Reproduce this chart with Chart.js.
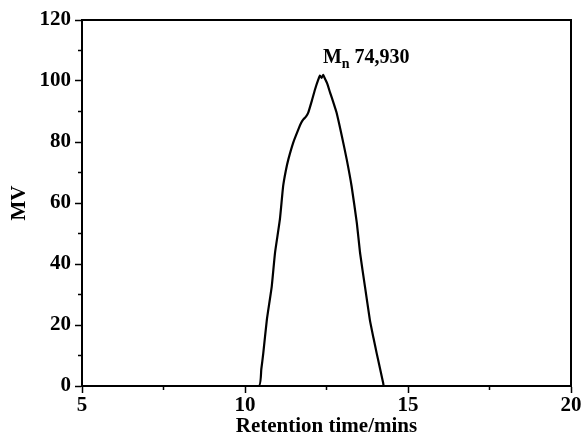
<!DOCTYPE html>
<html lang="en">
<head>
  <meta charset="UTF-8" />
  <title>GPC trace</title>
  <script src="https://cdn.jsdelivr.net/npm/chart.js"></script>
  <style>
    body {
      margin: 0;
      background: #ffffff;
    }
    #wrap {
      width: 584px;
      height: 443px;
    }
  </style>
</head>
<body>
  <div id="wrap">
    <canvas id="gpcChart" width="584" height="443"></canvas>
  </div>

  <script>
    // retention time (min) and detector response (mV)
    const retentionTime = [5, 10.42, 10.5, 10.56, 10.67, 10.82, 10.92, 11.07, 11.17, 11.25, 11.33, 11.48, 11.64, 11.72, 11.79, 11.87, 11.94, 12.05, 12.15, 12.25, 12.3, 12.35, 12.4, 12.45, 12.52, 12.61, 12.71, 12.81, 12.97, 13.12, 13.27, 13.43, 13.53, 13.68, 13.83, 13.94, 14.04, 14.14, 14.24, 14.26, 20];
    const signalMV = [0, 0, 5.5, 10.7, 21.7, 32.6, 43.6, 54.6, 65.5, 70.5, 74.3, 79.8, 84.2, 86.2, 87.4, 88.3, 89.6, 93.5, 97.3, 100.5, 101.8, 101.0, 102.0, 100.8, 99.2, 96.2, 93.0, 89.6, 82.0, 74.3, 65.5, 53.5, 43.6, 32.6, 21.7, 15.8, 10.7, 5.8, 0.9, 0, 0];

    const xTicks = [5, 10, 15, 20];
    const yTicks = [0, 20, 40, 60, 80, 100, 120];
    const xMinor = [7.5, 12.5, 17.5];
    const yMinor = [10, 30, 50, 70, 90, 110];

    const peakLabel = { x: 12.39, y: 106, main: 'M', sub: 'n', text: ' 74,930' };

    const fontFamily = "'Liberation Serif', 'DejaVu Serif', serif";

    const points = retentionTime.map((t, i) => ({ x: t, y: signalMV[i] }));

    // frame box, minor ticks and the Mn annotation
    const extras = {
      id: 'extras',
      afterDraw(chart) {
        const ctx = chart.ctx;
        const area = chart.chartArea;
        const xs = chart.scales.x;
        const ys = chart.scales.y;
        ctx.save();
        ctx.strokeStyle = '#000';
        ctx.lineWidth = 2;
        ctx.strokeRect(area.left, area.top, area.right - area.left, area.bottom - area.top);

        ctx.lineWidth = 1.5;
        ctx.beginPath();
        xMinor.forEach(v => {
          const px = xs.getPixelForValue(v);
          ctx.moveTo(px, area.bottom);
          ctx.lineTo(px, area.bottom + 4);
        });
        yMinor.forEach(v => {
          const py = ys.getPixelForValue(v);
          ctx.moveTo(area.left, py);
          ctx.lineTo(area.left - 4, py);
        });
        ctx.stroke();

        // Mn 74,930
        ctx.fillStyle = '#000';
        ctx.textBaseline = 'alphabetic';
        ctx.textAlign = 'left';
        let px = xs.getPixelForValue(peakLabel.x);
        const py = ys.getPixelForValue(peakLabel.y);
        ctx.font = 'bold 20px ' + fontFamily;
        ctx.fillText(peakLabel.main, px, py);
        px += ctx.measureText(peakLabel.main).width;
        ctx.font = 'bold 14px ' + fontFamily;
        ctx.fillText(peakLabel.sub, px, py + 5);
        px += ctx.measureText(peakLabel.sub).width;
        ctx.font = 'bold 20px ' + fontFamily;
        ctx.fillText(peakLabel.text, px, py);
        ctx.restore();
      }
    };

    new Chart(document.getElementById('gpcChart').getContext('2d'), {
      type: 'line',
      data: {
        datasets: [{
          data: points,
          borderColor: '#000',
          borderWidth: 2.2,
          pointRadius: 0,
          tension: 0.15,
          fill: false
        }]
      },
      options: {
        responsive: false,
        animation: false,
        layout: { padding: { top: 20, right: 13, left: 0, bottom: 0 } },
        plugins: {
          legend: { display: false },
          tooltip: { enabled: false }
        },
        scales: {
          x: {
            type: 'linear',
            min: 5,
            max: 20,
            afterBuildTicks: s => { s.ticks = xTicks.map(v => ({ value: v })); },
            afterFit: s => { s.height = 57; },
            border: { color: '#000', width: 2 },
            grid: { drawOnChartArea: false, tickLength: 7, tickWidth: 1.5, tickColor: '#000' },
            ticks: {
              color: '#000',
              padding: 0,
              font: { family: fontFamily, size: 21, weight: 'bold' }
            },
            title: {
              display: true,
              text: 'Retention time/mins',
              color: '#000',
              padding: { top: 0, bottom: 4 },
              font: { family: fontFamily, size: 21, weight: 'bold' }
            }
          },
          y: {
            type: 'linear',
            min: 0,
            max: 120,
            afterBuildTicks: s => { s.ticks = yTicks.map(v => ({ value: v })); },
            afterFit: s => { s.width = 82; },
            border: { color: '#000', width: 2 },
            grid: { drawOnChartArea: false, tickLength: 7, tickWidth: 1.5, tickColor: '#000' },
            ticks: {
              color: '#000',
              padding: 4,
              font: { family: fontFamily, size: 21, weight: 'bold' }
            },
            title: {
              display: true,
              text: 'MV',
              color: '#000',
              padding: { top: 7, bottom: 0 },
              font: { family: fontFamily, size: 21, weight: 'bold' }
            }
          }
        }
      },
      plugins: [extras]
    });
  </script>
</body>
</html>
